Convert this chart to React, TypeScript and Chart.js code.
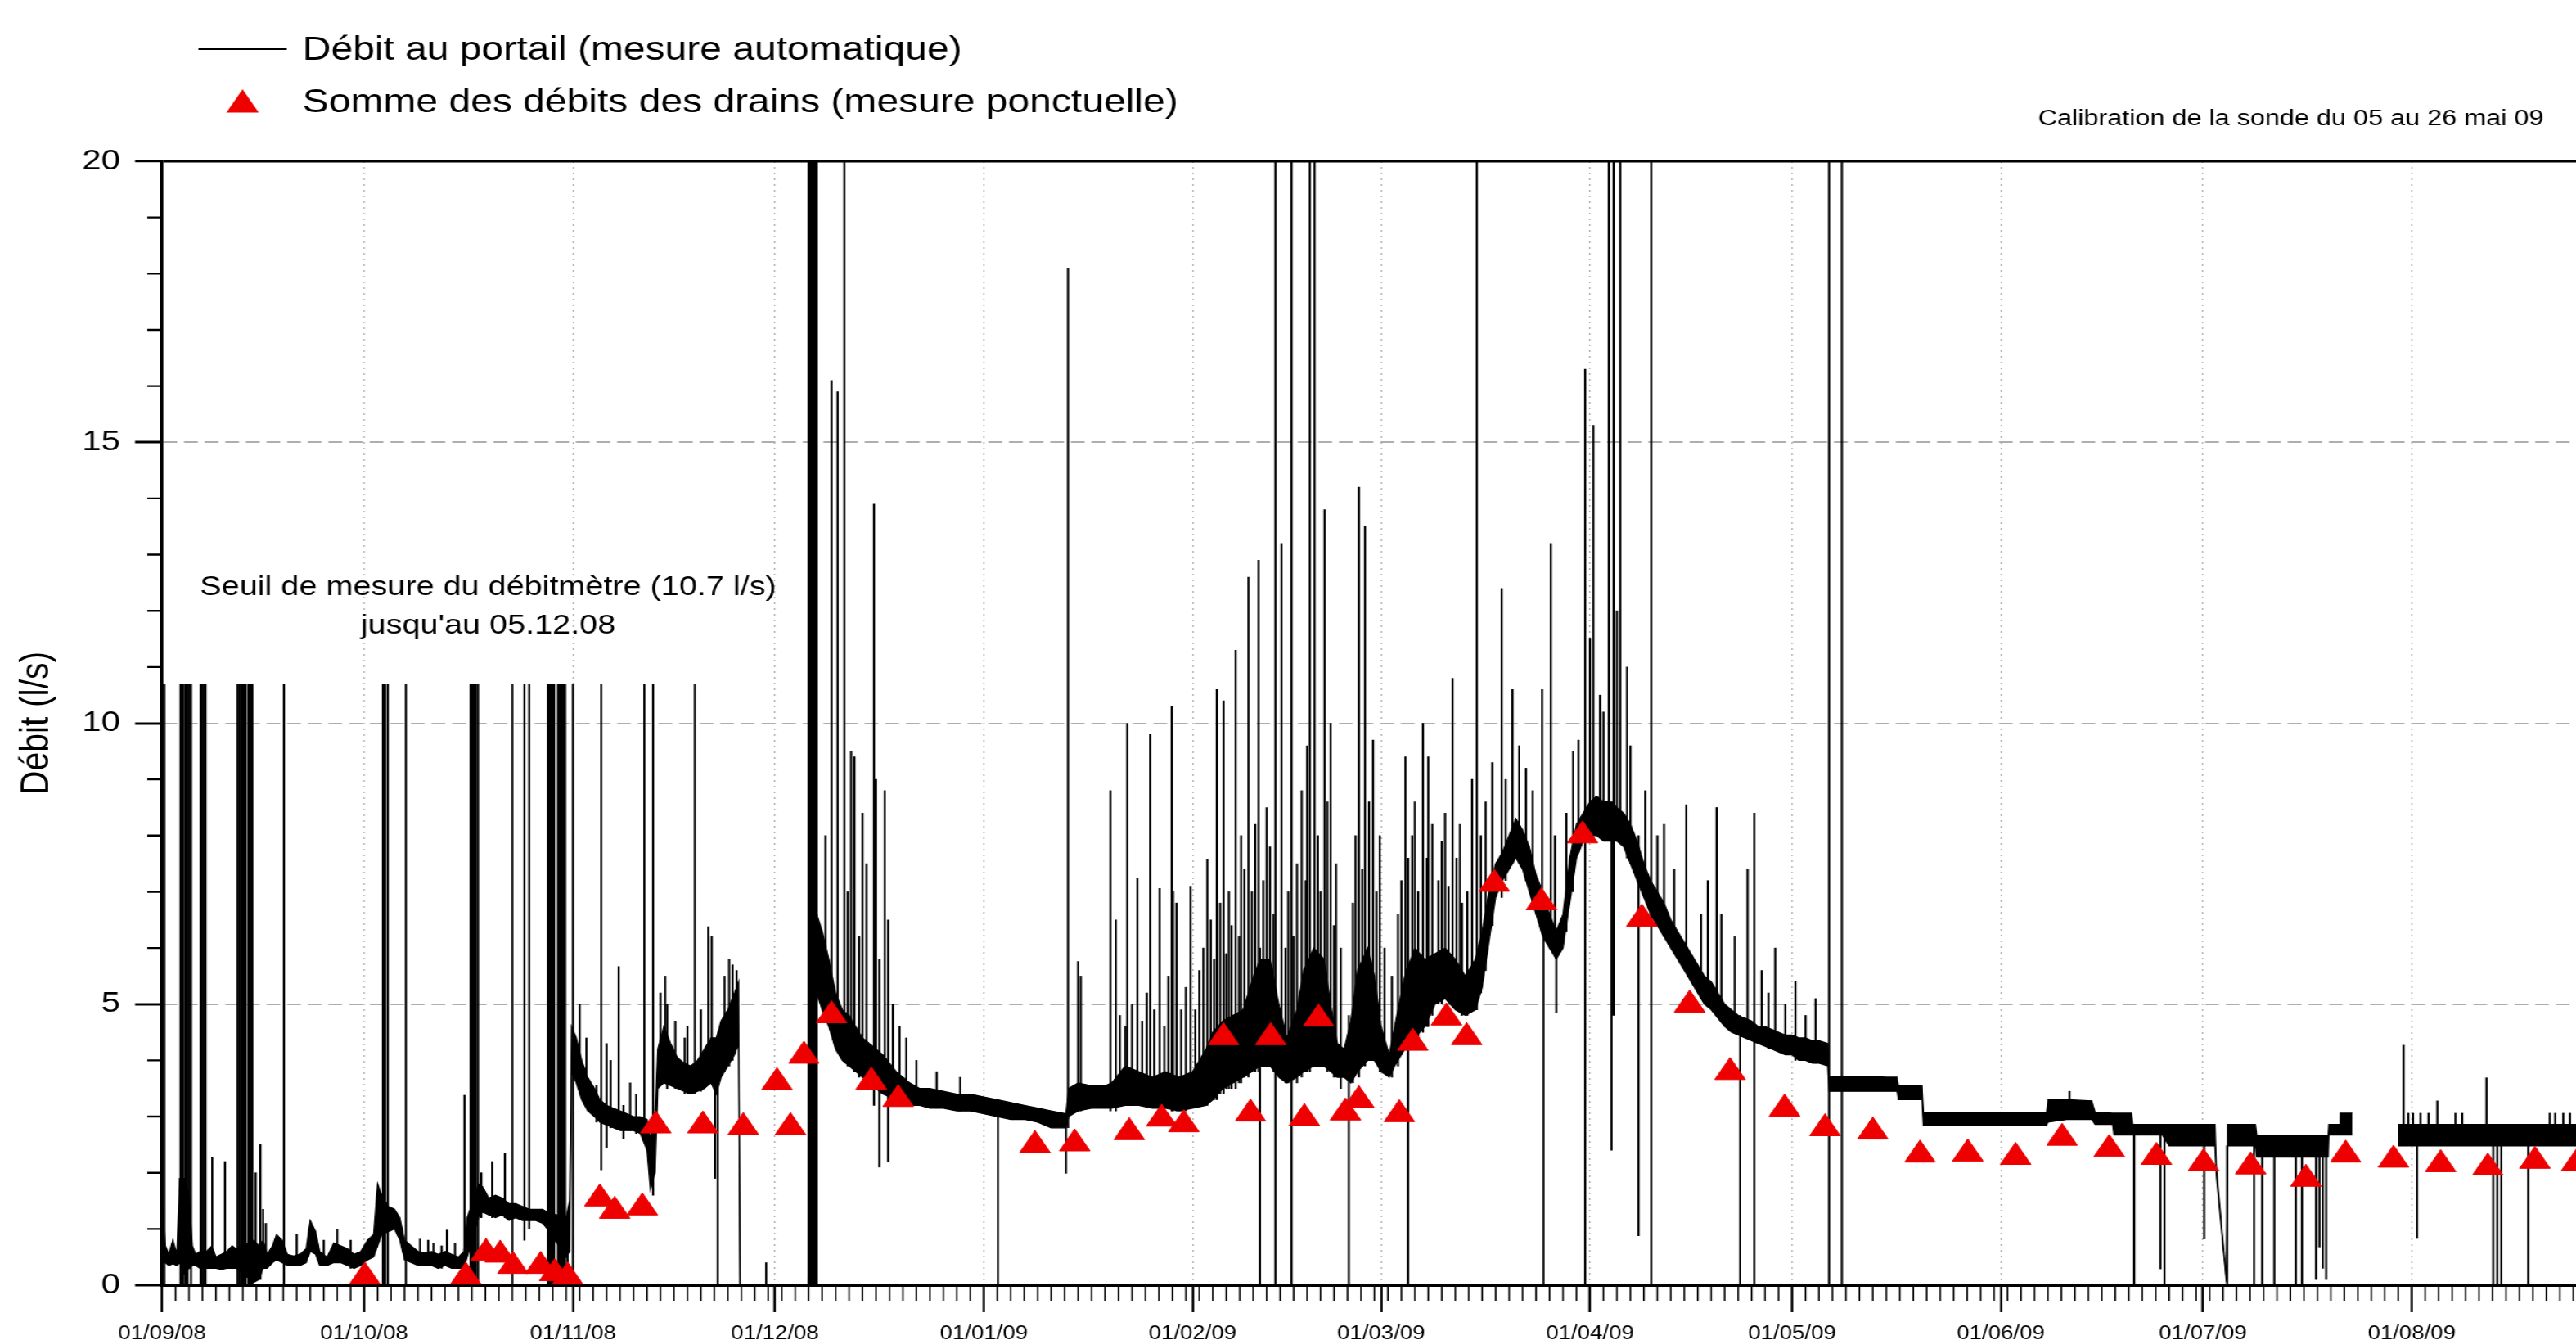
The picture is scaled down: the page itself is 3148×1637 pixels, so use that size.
import React, { useEffect, useRef } from 'react';
import { Chart, registerables } from 'chart.js';

Chart.register(...registerables);

// ---------------- data ----------------
// x values are days since 01/09/08
const monthDays = [0, 30, 61, 91, 122, 153, 181, 212, 242, 273, 303, 334];
const monthLabels = ['01/09/08', '01/10/08', '01/11/08', '01/12/08', '01/01/09', '01/02/09', '01/03/09', '01/04/09', '01/05/09', '01/06/09', '01/07/09', '01/08/09'];
const X_MAX_DAY = 358.4;

const legendTexts = ['Débit au portail (mesure automatique)', 'Somme des débits des drains (mesure ponctuelle)'];
const thresholdNote = ['Seuil de mesure du débitmètre (10.7 l/s)', "jusqu'au 05.12.08"];
const calibrationNote = 'Calibration de la sonde du 05 au 26 mai 09';
const yTitle = 'Débit (l/s)';

// automatic flow: [day, low of band, high of band]
const flowBand: [number, number | null, number | null][] = [
  [0.0, 0.40, 1.60], [0.5, 0.40, 0.70], [1.0, 0.35, 0.55], [1.6, 0.38, 0.80], [2.2, 0.35, 0.55],
  [2.6, 0.40, 1.90], [3.3, 0.20, 1.90], [4.0, 0.30, 1.60], [4.5, 0.35, 0.70], [5.0, 0.35, 0.55],
  [5.6, 0.30, 0.60], [6.6, 0.30, 0.60], [7.4, 0.30, 0.70], [8.0, 0.30, 0.50], [8.8, 0.28, 0.55],
  [9.6, 0.30, 0.60], [10.4, 0.30, 0.70], [11.0, 0.30, 0.65], [13.6, 0.05, 0.80], [14.4, 0.10, 0.70],
  [15.0, 0.30, 0.80], [15.6, 0.30, 0.55], [16.4, 0.40, 0.70], [17.0, 0.45, 0.90], [17.8, 0.40, 0.80],
  [18.6, 0.35, 0.55], [19.5, 0.35, 0.52], [20.5, 0.35, 0.55], [21.4, 0.40, 0.65], [22.0, 0.60, 1.15],
  [22.8, 0.55, 0.95], [23.4, 0.35, 0.60], [24.5, 0.35, 0.50], [25.5, 0.40, 0.75], [26.5, 0.40, 0.70],
  [27.5, 0.35, 0.65], [28.5, 0.30, 0.55], [29.5, 0.35, 0.60], [30.5, 0.45, 0.80], [31.4, 0.50, 0.90],
  [32.0, 0.70, 1.80], [32.6, 0.90, 1.60], [33.6, 0.95, 1.40], [34.5, 1.00, 1.35], [35.3, 0.80, 1.20],
  [36.0, 0.45, 0.80], [37.0, 0.40, 0.70], [38.0, 0.35, 0.60], [39.0, 0.35, 0.58], [40.0, 0.35, 0.60],
  [41.0, 0.30, 0.55], [42.0, 0.35, 0.60], [43.0, 0.30, 0.55], [44.0, 0.30, 0.50], [44.8, 0.30, 0.60],
  [45.3, 0.50, 1.20], [47.0, 1.20, 1.80], [47.6, 1.30, 1.75], [48.5, 1.25, 1.55], [49.5, 1.20, 1.60],
  [50.5, 1.25, 1.55], [51.5, 1.15, 1.45], [52.5, 1.20, 1.45], [53.5, 1.15, 1.40], [54.5, 1.15, 1.35],
  [55.5, 1.15, 1.35], [56.5, 1.10, 1.35], [57.2, 1.00, 1.30], [60.0, 0.50, 1.20], [60.5, 0.60, 1.50],
  [60.8, 3.80, 4.60], [61.5, 3.60, 4.40], [62.3, 3.30, 4.00], [63.2, 3.10, 3.70], [64.2, 3.00, 3.50],
  [65.0, 2.90, 3.30], [66.0, 2.85, 3.20], [67.0, 2.80, 3.15], [68.0, 2.75, 3.10], [69.0, 2.75, 3.05],
  [70.0, 2.75, 3.00], [71.0, 2.70, 3.00], [72.0, 2.40, 2.95], [72.5, 1.70, 2.60], [73.2, 2.00, 3.00],
  [73.6, 3.50, 4.20], [74.5, 3.60, 4.60], [75.5, 3.55, 4.30], [76.5, 3.50, 4.05], [77.5, 3.45, 3.95],
  [78.5, 3.40, 3.90], [79.5, 3.45, 4.00], [80.5, 3.50, 4.20], [81.5, 3.60, 4.40], [82.3, 3.40, 4.40],
  [83.0, 3.70, 4.70], [84.0, 3.90, 4.90], [85.0, 4.10, 5.20], [85.6, 4.30, 5.40], [85.8, 0, 0],
  [96.0, 0, 0], [97.2, 5.20, 6.60], [98.0, 4.90, 6.30], [99.0, 4.60, 5.80], [100.0, 4.20, 5.20],
  [101.0, 4.00, 4.90], [102.0, 3.90, 4.80], [103.0, 3.80, 4.60], [104.0, 3.70, 4.40], [105.0, 3.60, 4.30],
  [106.0, 3.50, 4.20], [107.0, 3.40, 4.10], [108.0, 3.35, 3.95], [109.0, 3.30, 3.80], [110.0, 3.25, 3.70],
  [111.0, 3.20, 3.60], [112.5, 3.20, 3.50], [114.0, 3.15, 3.50], [116.0, 3.15, 3.45], [118.0, 3.10, 3.40],
  [120.0, 3.10, 3.40], [122.0, 3.05, 3.35], [124.0, 3.00, 3.30], [126.0, 2.95, 3.25], [128.0, 2.95, 3.20],
  [130.0, 2.90, 3.15], [132.0, 2.80, 3.10], [134.2, 2.80, 3.05], [134.6, 3.00, 3.50], [136.0, 3.10, 3.60],
  [138.0, 3.15, 3.55], [140.0, 3.15, 3.55], [141.0, 3.15, 3.60], [143.0, 3.20, 3.90], [145.0, 3.20, 3.80],
  [147.0, 3.15, 3.70], [149.0, 3.15, 3.80], [151.0, 3.10, 3.70], [153.0, 3.15, 3.80], [155.0, 3.20, 4.20],
  [156.0, 3.30, 4.50], [157.5, 3.50, 4.70], [159.0, 3.60, 4.80], [160.5, 3.70, 4.90], [161.8, 3.80, 5.40],
  [163.0, 3.90, 5.80], [164.5, 3.90, 5.80], [165.8, 3.70, 5.00], [167.0, 3.60, 4.40], [168.5, 3.70, 4.90],
  [169.5, 3.80, 5.60], [171.0, 3.90, 6.00], [172.5, 3.90, 5.80], [173.5, 3.80, 5.00], [174.5, 3.70, 4.30],
  [175.5, 3.70, 4.20], [176.5, 3.60, 4.70], [177.5, 3.80, 5.60], [179.0, 4.00, 6.00], [180.0, 4.00, 5.50],
  [181.0, 3.80, 4.60], [182.2, 3.70, 4.10], [183.0, 3.90, 4.60], [184.5, 4.20, 5.50], [186.0, 4.40, 6.00],
  [187.5, 4.60, 5.80], [189.0, 5.00, 5.90], [190.5, 5.10, 6.00], [192.0, 4.90, 5.80], [193.5, 4.80, 5.50],
  [195.0, 4.90, 5.80], [196.0, 5.30, 6.30], [197.0, 6.10, 7.00], [198.0, 6.90, 7.50], [199.0, 7.20, 7.70],
  [200.0, 7.40, 8.00], [201.0, 7.60, 8.30], [202.0, 7.40, 8.10], [203.0, 7.00, 7.80], [204.0, 6.60, 7.30],
  [205.0, 6.20, 7.00], [206.0, 6.00, 6.60], [207.0, 5.80, 6.30], [208.0, 6.00, 6.60], [209.0, 6.80, 7.60],
  [210.0, 7.60, 8.20], [211.0, 7.90, 8.40], [212.0, 8.00, 8.60], [213.0, 8.00, 8.70], [214.0, 7.90, 8.60],
  [215.0, 7.90, 8.60], [216.0, 7.90, 8.50], [217.0, 7.80, 8.40], [218.0, 7.50, 8.20], [219.0, 7.20, 7.90],
  [220.0, 6.90, 7.50], [221.0, 6.60, 7.20], [222.0, 6.40, 7.00], [223.0, 6.20, 6.80], [224.0, 6.00, 6.50],
  [225.0, 5.80, 6.30], [226.0, 5.60, 6.10], [227.0, 5.40, 5.90], [228.0, 5.20, 5.70], [229.0, 5.00, 5.50],
  [230.0, 4.90, 5.40], [231.0, 4.75, 5.20], [232.0, 4.60, 5.00], [233.0, 4.50, 4.90], [234.0, 4.45, 4.80],
  [235.0, 4.40, 4.75], [236.0, 4.35, 4.70], [237.0, 4.30, 4.60], [238.0, 4.25, 4.60], [239.0, 4.20, 4.55],
  [240.0, 4.15, 4.50], [241.0, 4.10, 4.45], [242.0, 4.10, 4.45], [243.0, 4.00, 4.40], [244.0, 4.00, 4.40],
  [245.0, 3.95, 4.35], [246.0, 3.95, 4.35], [247.3, 3.90, 4.30], [247.5, 3.45, 3.70], [250.0, 3.45, 3.72],
  [253.0, 3.45, 3.72], [256.0, 3.45, 3.70], [257.6, 3.45, 3.70], [257.8, 3.30, 3.55], [261.3, 3.30, 3.55],
  [261.5, 2.85, 3.08], [265.0, 2.85, 3.08], [270.0, 2.85, 3.08], [275.0, 2.85, 3.08], [279.8, 2.85, 3.08],
  [280.0, 2.90, 3.30], [283.0, 2.95, 3.30], [286.5, 2.95, 3.28], [287.0, 2.86, 3.08], [289.6, 2.86, 3.06],
  [289.8, 2.67, 3.06], [292.4, 2.67, 3.06], [292.6, 2.67, 2.86], [297.0, 2.67, 2.86], [298.0, 2.48, 2.86],
  [304.8, 2.48, 2.86], [305.0, 1.95, 2.10], [306.5, 0.05, 0.10], [306.7, 2.48, 2.86], [310.8, 2.48, 2.86],
  [311.0, 2.28, 2.67], [321.6, 2.28, 2.67], [321.7, 2.67, 2.86], [323.3, 2.67, 2.86], [323.4, 2.67, 3.06],
  [325.2, 2.67, 3.06], [325.3, null, null], [331.9, null, null], [332.0, 2.48, 2.86], [358.4, 2.48, 2.86],
];

// automatic flow, short peaks and drops: [day, low, high]
const flowSpikes: [number, number, number][] = [
  [0.1, 0, 10.7], [0.35, 0, 10.7], [2.75, 0, 10.7], [2.95, 0, 10.7], [3.16, 0, 10.7], [3.5, 0, 10.7],
  [3.77, 0, 10.7], [4.05, 0.3, 10.7], [4.3, 0, 10.7], [5.75, 0, 10.7], [5.95, 0, 10.7], [6.2, 0, 10.7],
  [6.45, 0, 10.7], [7.45, 0.35, 2.28], [9.35, 0.3, 2.2], [11.2, 0, 10.7], [11.5, 0, 10.7],
  [11.8, 0, 10.7], [11.95, 0, 10.7], [12.1, 0, 10.7], [12.25, 0, 10.7], [12.4, 0, 10.7],
  [12.8, 0, 10.7], [12.95, 0, 10.7], [13.1, 0, 10.7], [13.25, 0, 10.7], [13.4, 0, 10.7],
  [13.9, 0.2, 2.0], [14.6, 0.1, 2.5], [15.0, 0.3, 1.35], [15.4, 0.3, 1.1], [18.1, 0, 10.7],
  [20.0, 0.35, 0.9], [24.0, 0.35, 0.8], [26.0, 0.4, 1.0], [28.0, 0.3, 0.8],
  [32.8, 0, 10.7], [33.1, 0, 10.7], [33.5, 0, 10.7], [36.2, 0, 10.7],
  [38.3, 0.4, 0.82], [39.5, 0.35, 0.8], [40.3, 0.4, 0.75], [41.5, 0.3, 0.7], [42.3, 0.4, 0.98],
  [43.5, 0.3, 0.75], [44.9, 0.4, 3.38],
  [45.8, 0, 10.7], [46.0, 0, 10.7], [46.2, 0, 10.7], [46.4, 0, 10.7], [46.6, 0, 10.7], [46.9, 0, 10.7],
  [47.4, 1.2, 2.0], [49.0, 1.2, 2.2], [50.9, 1.2, 2.34], [52.0, 0, 10.7], [53.8, 0.8, 10.7], [54.5, 1.0, 10.7],
  [57.3, 0, 10.7], [57.45, 0, 10.7], [57.6, 0, 10.7], [57.75, 0, 10.7], [57.9, 0, 10.7], [58.05, 0, 10.7], [58.2, 0, 10.7],
  [58.8, 0, 10.7], [58.95, 0, 10.7], [59.1, 0, 10.7], [59.25, 0, 10.7], [59.4, 0, 10.7], [59.55, 0, 10.7],
  [59.7, 0, 10.7], [59.85, 0, 10.7], [60.2, 0, 1.2], [61.0, 0, 10.7],
  [62.0, 3.4, 5.0], [63.0, 3.2, 4.4],
  [64.5, 2.9, 3.55], [65.2, 2.05, 10.7], [66.0, 2.44, 4.3], [66.6, 2.8, 4.0], [67.8, 2.9, 5.67], [68.5, 2.6, 3.2],
  [69.5, 2.75, 3.6], [70.4, 2.7, 3.4],
  [71.6, 2.8, 10.7], [72.9, 1.6, 10.7], [74.0, 3.6, 5.2], [74.7, 3.6, 5.5], [75.0, 3.5, 5.0], [76.2, 3.5, 4.7],
  [77.6, 3.4, 4.4], [78.0, 3.4, 4.6], [79.1, 3.4, 10.7], [80.0, 3.45, 4.9], [81.1, 3.6, 6.38], [81.6, 3.6, 6.2],
  [82.1, 1.9, 4.3], [82.5, 0, 4.3], [83.5, 3.8, 5.5], [84.2, 3.9, 5.8],
  [84.7, 4.0, 5.7], [85.3, 4.2, 5.6], [89.7, 0, 0.4],
  [96.0, 0, 20], [96.15, 0, 20], [96.3, 0, 20], [96.45, 0, 20], [96.6, 0, 20], [96.75, 0, 20],
  [96.9, 0, 20], [97.05, 0, 20], [97.2, 0, 20],
  [98.5, 4.8, 8.0], [99.4, 4.6, 16.1], [100.3, 4.2, 15.9], [101.3, 4.0, 20], [101.8, 3.9, 7.0], [102.3, 3.9, 9.5],
  [102.8, 3.8, 9.4], [103.5, 3.7, 6.2], [104.0, 3.7, 8.4], [104.6, 3.6, 7.5], [105.7, 3.2, 13.9], [106.0, 3.5, 9.0],
  [106.5, 2.1, 5.8], [107.3, 3.4, 8.8], [107.8, 2.2, 6.5], [108.5, 3.3, 5.0], [109.5, 3.3, 4.6], [110.5, 3.2, 4.4],
  [112.0, 3.2, 4.0], [115.0, 3.15, 3.8], [118.5, 3.1, 3.7],
  [124.1, 0, 3.3], [134.2, 1.99, 3.0], [134.5, 2.8, 18.1], [136.0, 3.1, 5.76], [136.4, 3.1, 5.5],
  [140.8, 3.1, 8.8], [141.6, 3.1, 6.5], [142.2, 3.2, 4.8], [143.0, 3.2, 4.6], [143.3, 3.2, 10.0],
  [144.0, 3.2, 5.0], [144.8, 3.2, 7.25], [145.5, 3.2, 4.7], [146.2, 3.2, 5.2], [146.7, 3.2, 9.8],
  [147.3, 3.15, 4.9], [148.1, 3.15, 7.06], [148.8, 3.15, 4.6], [149.4, 3.15, 5.5], [149.9, 3.1, 10.3],
  [150.1, 3.1, 7.0], [150.6, 3.1, 6.8], [151.3, 3.1, 4.9], [152.0, 3.1, 5.3], [152.7, 3.15, 7.1],
  [153.4, 3.15, 4.9], [154.0, 3.2, 5.6], [154.6, 3.2, 6.0], [155.2, 3.2, 7.58],
  [155.7, 3.3, 6.5], [156.2, 3.3, 5.8], [156.6, 3.3, 10.6], [157.1, 3.4, 6.8], [157.6, 3.4, 10.4],
  [158.0, 3.5, 5.9], [158.4, 3.5, 7.0], [158.8, 3.5, 6.4], [159.4, 3.5, 11.3], [159.9, 3.6, 6.2],
  [160.2, 3.6, 8.0], [160.7, 3.7, 7.4], [161.3, 3.7, 12.6], [161.8, 3.8, 7.0], [162.3, 3.8, 8.2],
  [162.8, 3.8, 12.9], [163.0, 0, 6.0], [163.5, 3.9, 7.2], [164.0, 3.9, 8.5], [164.5, 3.9, 7.8],
  [165.0, 3.8, 6.6], [165.3, 0, 20], [166.2, 3.7, 13.2], [166.8, 3.6, 6.0], [167.2, 3.6, 7.0],
  [167.7, 0, 20], [168.0, 3.7, 6.2], [168.5, 3.6, 7.5], [169.2, 3.7, 8.8], [169.8, 3.8, 7.2],
  [170.0, 3.8, 9.6], [170.4, 3.8, 20], [171.1, 3.9, 20], [171.6, 3.9, 8.0], [172.0, 3.9, 7.0],
  [172.6, 3.9, 13.8], [173.0, 3.8, 8.6], [173.5, 3.8, 10.0], [174.0, 3.7, 6.4], [174.3, 3.7, 7.5],
  [175.0, 3.5, 6.0], [176.2, 0, 4.8], [176.8, 3.6, 6.8], [177.2, 3.8, 8.0], [177.7, 3.7, 14.2],
  [178.2, 3.9, 7.4], [178.6, 3.9, 13.5], [179.2, 4.0, 8.6], [179.8, 4.0, 9.7], [180.3, 4.0, 7.0],
  [180.8, 3.8, 8.0], [181.5, 3.8, 6.0], [182.6, 3.7, 5.5], [183.5, 3.9, 6.6], [184.0, 4.1, 7.2],
  [184.6, 4.2, 9.4], [185.0, 0, 7.6], [185.6, 4.3, 8.0], [186.0, 4.4, 8.6], [186.5, 4.4, 7.0],
  [187.2, 4.5, 10.0], [187.8, 4.6, 7.6], [188.0, 4.6, 9.4], [188.6, 4.8, 8.2], [189.5, 5.0, 7.2],
  [190.0, 5.0, 7.9], [190.5, 5.1, 8.4], [191.0, 5.1, 7.1], [191.6, 5.0, 10.8], [192.2, 4.9, 7.6],
  [192.7, 4.9, 8.2], [193.0, 4.8, 6.8], [193.8, 4.8, 7.0], [194.5, 4.9, 9.0], [195.2, 4.9, 20],
  [195.8, 5.2, 8.0], [196.5, 5.6, 8.6], [197.5, 6.4, 9.3], [198.9, 6.9, 12.4], [199.5, 7.2, 9.0],
  [200.5, 7.5, 10.6], [201.5, 7.5, 9.6], [202.5, 7.2, 9.2], [203.5, 6.8, 8.8], [204.9, 6.4, 10.6],
  [205.1, 0, 6.5], [206.2, 6.0, 13.2], [206.8, 5.9, 8.0], [207.0, 4.85, 6.3], [208.5, 6.3, 8.4],
  [209.5, 7.0, 9.5], [210.3, 7.7, 9.7], [211.3, 0, 16.3], [212.0, 8.0, 11.5], [212.5, 8.0, 15.3],
  [213.5, 8.0, 10.5], [214.0, 7.9, 10.2], [214.8, 7.9, 20], [215.2, 2.4, 8.6], [215.5, 4.8, 20],
  [216.0, 7.9, 12.0], [216.5, 7.9, 20], [217.5, 7.6, 11.0], [218.0, 7.5, 9.6], [219.2, 0.88, 8.0],
  [220.2, 6.9, 8.8], [221.1, 0, 20], [222.0, 6.4, 8.0], [223.0, 6.2, 8.2], [224.5, 5.9, 7.4],
  [226.3, 5.6, 8.55], [228.5, 5.1, 6.6], [229.5, 5.0, 7.2], [230.8, 4.8, 8.5], [231.5, 4.7, 6.6],
  [233.5, 4.5, 6.2],
  [234.3, 0, 4.8], [235.4, 4.4, 7.4], [236.4, 0, 8.4], [237.5, 4.3, 5.6], [238.5, 4.2, 5.2],
  [239.5, 4.2, 6.0], [241.0, 4.1, 5.0], [242.5, 4.0, 5.4], [244.0, 4.0, 4.8], [245.5, 3.95, 5.1],
  [247.5, 0, 20], [249.4, 0, 20],
  [283.2, 2.95, 3.45], [292.8, 0, 2.86], [296.7, 0.29, 2.67], [297.3, 0, 2.67], [303.2, 0.82, 2.48],
  [306.6, 0, 2.48], [310.6, 0, 2.48], [311.8, 0, 2.3], [313.6, 0, 2.3], [316.8, 0, 2.3], [317.7, 0, 2.3],
  [319.8, 0.1, 2.28], [320.3, 0.68, 2.28], [320.8, 0.3, 2.5], [321.3, 0.1, 2.6],
  [332.8, 2.5, 4.27], [333.5, 2.5, 3.06], [334.2, 2.5, 3.06], [334.8, 0.83, 2.48], [335.3, 2.5, 3.06],
  [336.5, 2.5, 3.06], [337.8, 2.5, 3.28], [340.5, 2.5, 3.06], [341.5, 2.5, 3.06], [345.1, 2.5, 3.69],
  [346.1, 0, 2.48], [346.7, 0, 2.48], [347.3, 0, 2.48], [351.3, 0, 2.48], [354.5, 2.5, 3.06],
  [355.3, 2.5, 3.06], [356.5, 2.5, 3.06], [357.5, 2.5, 3.06],
];

// sum of drain flows (spot measurements)
const drainDays = [
  30.1, 45.1, 48.1, 50.2, 52.1, 56.2, 58.3, 60.2, 65.0, 67.2, 71.3, 73.3, 80.3, 86.3, 91.3, 93.3, 95.3,
  99.4, 105.3, 109.3, 129.6, 135.5, 143.6, 148.4, 151.7, 157.6, 161.6, 164.6, 169.6, 171.7, 175.7, 177.7,
  183.7, 185.7, 190.7, 193.7, 197.8, 204.8, 210.9, 219.7, 226.8, 232.8, 240.9, 246.9, 254.0, 261.0, 268.1,
  275.2, 282.1, 289.1, 296.1, 303.1, 310.1, 318.3, 324.2, 331.3, 338.3, 345.3, 352.3, 358.5,
];
const drainValues = [
  0.15, 0.15, 0.57, 0.54, 0.34, 0.34, 0.21, 0.15, 1.54, 1.32, 1.38, 2.84, 2.84, 2.81, 3.61, 2.81, 4.08,
  4.80, 3.62, 3.31, 2.49, 2.52, 2.72, 2.96, 2.86, 4.41, 3.05, 4.41, 2.97, 4.74, 3.07, 3.29,
  3.04, 4.31, 4.76, 4.41, 7.14, 6.81, 8.00, 6.52, 4.99, 3.79, 3.14, 2.79, 2.73, 2.32, 2.34,
  2.28, 2.62, 2.42, 2.28, 2.17, 2.11, 1.89, 2.32, 2.23, 2.15, 2.09, 2.21, 2.17,
];

// ---------------- layout ----------------
const FONT = '"Liberation Sans", Arial, Helvetica, sans-serif';
const STRETCH = 1.2; // reference is horizontally stretched
const VIEW_W = 3148;
const VIEW_H = 1637;
const CANVAS_W = Math.round(VIEW_W / STRETCH);
const CANVAS_H = 1660;
const PLOT_LEFT = 165;
const PLOT_TOP = 197;
const PLOT_BOTTOM = 1570;
const RED = 'rgb(238,0,0)';

const decorPlugin = {
  id: 'decor',
  afterDraw(chart: any) {
    const { ctx, chartArea: a } = chart;
    const xs = chart.scales.x;
    const ys = chart.scales.y;
    ctx.save();
    // minor ticks on the x axis (every 2 days)
    ctx.strokeStyle = '#000';
    ctx.lineWidth = 1.6;
    ctx.beginPath();
    for (let d = 2; d <= X_MAX_DAY; d += 2) {
      if (monthDays.includes(d)) continue;
      const px = xs.getPixelForValue(d);
      ctx.moveTo(px, a.bottom);
      ctx.lineTo(px, a.bottom + 19);
    }
    ctx.stroke();
    // minor ticks on the y axis
    ctx.lineWidth = 2.4;
    ctx.beginPath();
    for (let v = 1; v < 20; v++) {
      if (v % 5 === 0) continue;
      const py = ys.getPixelForValue(v);
      ctx.moveTo(a.left - 15, py);
      ctx.lineTo(a.left, py);
    }
    ctx.stroke();

    // legend
    ctx.fillStyle = '#000';
    ctx.lineWidth = 1.8;
    ctx.beginPath();
    ctx.moveTo(202, 60);
    ctx.lineTo(292, 60);
    ctx.stroke();
    ctx.font = `40px ${FONT}`;
    ctx.textAlign = 'left';
    ctx.textBaseline = 'alphabetic';
    ctx.fillText(legendTexts[0], 308, 73);
    ctx.fillText(legendTexts[1], 308, 137);
    const r = 19;
    const cx = 247;
    const cy = 128;
    ctx.fillStyle = RED;
    ctx.beginPath();
    ctx.moveTo(cx, cy - r);
    ctx.lineTo(cx + r * Math.sin((2 * Math.PI) / 3), cy + r / 2);
    ctx.lineTo(cx - r * Math.sin((2 * Math.PI) / 3), cy + r / 2);
    ctx.closePath();
    ctx.fill();

    // notes
    ctx.fillStyle = '#000';
    ctx.font = `33px ${FONT}`;
    ctx.textAlign = 'center';
    ctx.fillText(thresholdNote[0], 497, 727);
    ctx.fillText(thresholdNote[1], 497, 774);
    ctx.font = `27px ${FONT}`;
    ctx.textAlign = 'right';
    ctx.fillText(calibrationNote, 2590, 153);
    ctx.restore();
  },
};

export default function App() {
  const ref = useRef<HTMLCanvasElement>(null);

  useEffect(() => {
    const canvas = ref.current;
    if (!canvas) return;
    Chart.defaults.font.family = FONT;

    const yVal = (c: any) => (c && c.tick ? c.tick.value : undefined);

    const chart = new Chart(canvas, {
      type: 'line',
      data: {
        datasets: [
          {
            type: 'scatter',
            label: legendTexts[1],
            data: drainDays.map((d, i) => ({ x: d, y: drainValues[i] })),
            pointStyle: 'triangle',
            pointRadius: 18,
            pointHoverRadius: 18,
            backgroundColor: RED,
            borderColor: RED,
            borderWidth: 1,
            order: 0,
          },
          {
            type: 'line',
            label: legendTexts[0],
            data: flowBand.map((r) => ({ x: r[0], y: r[2] })),
            borderColor: '#000',
            borderWidth: 1.3,
            pointRadius: 0,
            tension: 0,
            fill: false,
            order: 2,
          },
          {
            type: 'line',
            label: 'band-low',
            data: flowBand.map((r) => ({ x: r[0], y: r[1] })),
            borderColor: '#000',
            borderWidth: 1.3,
            pointRadius: 0,
            tension: 0,
            fill: '-1',
            backgroundColor: '#000',
            order: 3,
          },
          {
            type: 'bar',
            label: 'peaks',
            data: flowSpikes.map((r) => ({ x: r[0], y: [r[1], r[2]] })),
            backgroundColor: '#000',
            borderWidth: 0,
            barThickness: 1.5,
            grouped: false,
            order: 1,
          },
        ] as any,
      },
      options: {
        responsive: false,
        maintainAspectRatio: false,
        devicePixelRatio: 1,
        animation: false,
        events: [],
        layout: { autoPadding: false, padding: { top: PLOT_TOP, right: 0, bottom: 0, left: 0 } },
        plugins: {
          legend: { display: false },
          tooltip: { enabled: false },
        },
        scales: {
          x: {
            type: 'linear',
            min: 0,
            max: X_MAX_DAY,
            offset: false,
            afterBuildTicks: (s: any) => {
              s.ticks = monthDays.map((v) => ({ value: v }));
            },
            afterFit: (s: any) => {
              s.height = CANVAS_H - PLOT_BOTTOM;
            },
            ticks: {
              autoSkip: false,
              maxRotation: 0,
              minRotation: 0,
              padding: 13,
              color: '#000',
              font: { family: FONT, size: 23 },
              callback: (v: any) => {
                const i = monthDays.indexOf(Number(v));
                return i >= 0 ? monthLabels[i] : '';
              },
            },
            grid: {
              display: true,
              drawOnChartArea: true,
              drawTicks: true,
              offset: false,
              color: 'rgba(170,170,170,0.9)',
              lineWidth: 1.4,
              tickLength: 33,
              tickColor: '#000',
              tickWidth: 2.4,
            },
            border: { display: true, color: '#000', width: 4, dash: [2, 5] },
          },
          y: {
            type: 'linear',
            min: 0,
            max: 20,
            afterFit: (s: any) => {
              s.width = PLOT_LEFT;
            },
            ticks: {
              stepSize: 1,
              autoSkip: false,
              padding: 15,
              color: '#000',
              font: { family: FONT, size: 35 },
              callback: (v: any) => (Number(v) % 5 === 0 ? String(v) : ''),
            },
            grid: {
              drawTicks: true,
              tickLength: 27.5,
              tickWidth: 3,
              color: (c: any) => {
                const v = yVal(c);
                if (v === 20) return '#000';
                if (v === 5 || v === 10 || v === 15) return 'rgba(170,170,170,0.95)';
                return 'rgba(0,0,0,0)';
              },
              lineWidth: (c: any) => (yVal(c) === 20 ? 3.5 : 2),
              tickColor: (c: any) => {
                const v = yVal(c);
                return v !== undefined && v % 5 === 0 ? '#000' : 'rgba(0,0,0,0)';
              },
            },
            border: {
              display: true,
              color: '#000',
              width: 3.4,
              dash: (c: any) => (yVal(c) === 20 ? [] : [14, 7]),
            },
            title: {
              display: true,
              text: yTitle,
              color: '#000',
              font: { family: FONT, size: 41 },
              padding: { top: 13, bottom: 0 },
            },
          },
        },
      } as any,
      plugins: [decorPlugin],
    });

    return () => chart.destroy();
  }, []);

  return (
    <div
      style={{
        position: 'fixed',
        left: 0,
        top: 0,
        width: VIEW_W,
        height: VIEW_H,
        overflow: 'hidden',
        background: '#fff',
      }}
    >
      <canvas
        ref={ref}
        width={CANVAS_W}
        height={CANVAS_H}
        style={{ display: 'block', width: `${VIEW_W}px`, height: `${CANVAS_H}px` }}
      />
    </div>
  );
}
